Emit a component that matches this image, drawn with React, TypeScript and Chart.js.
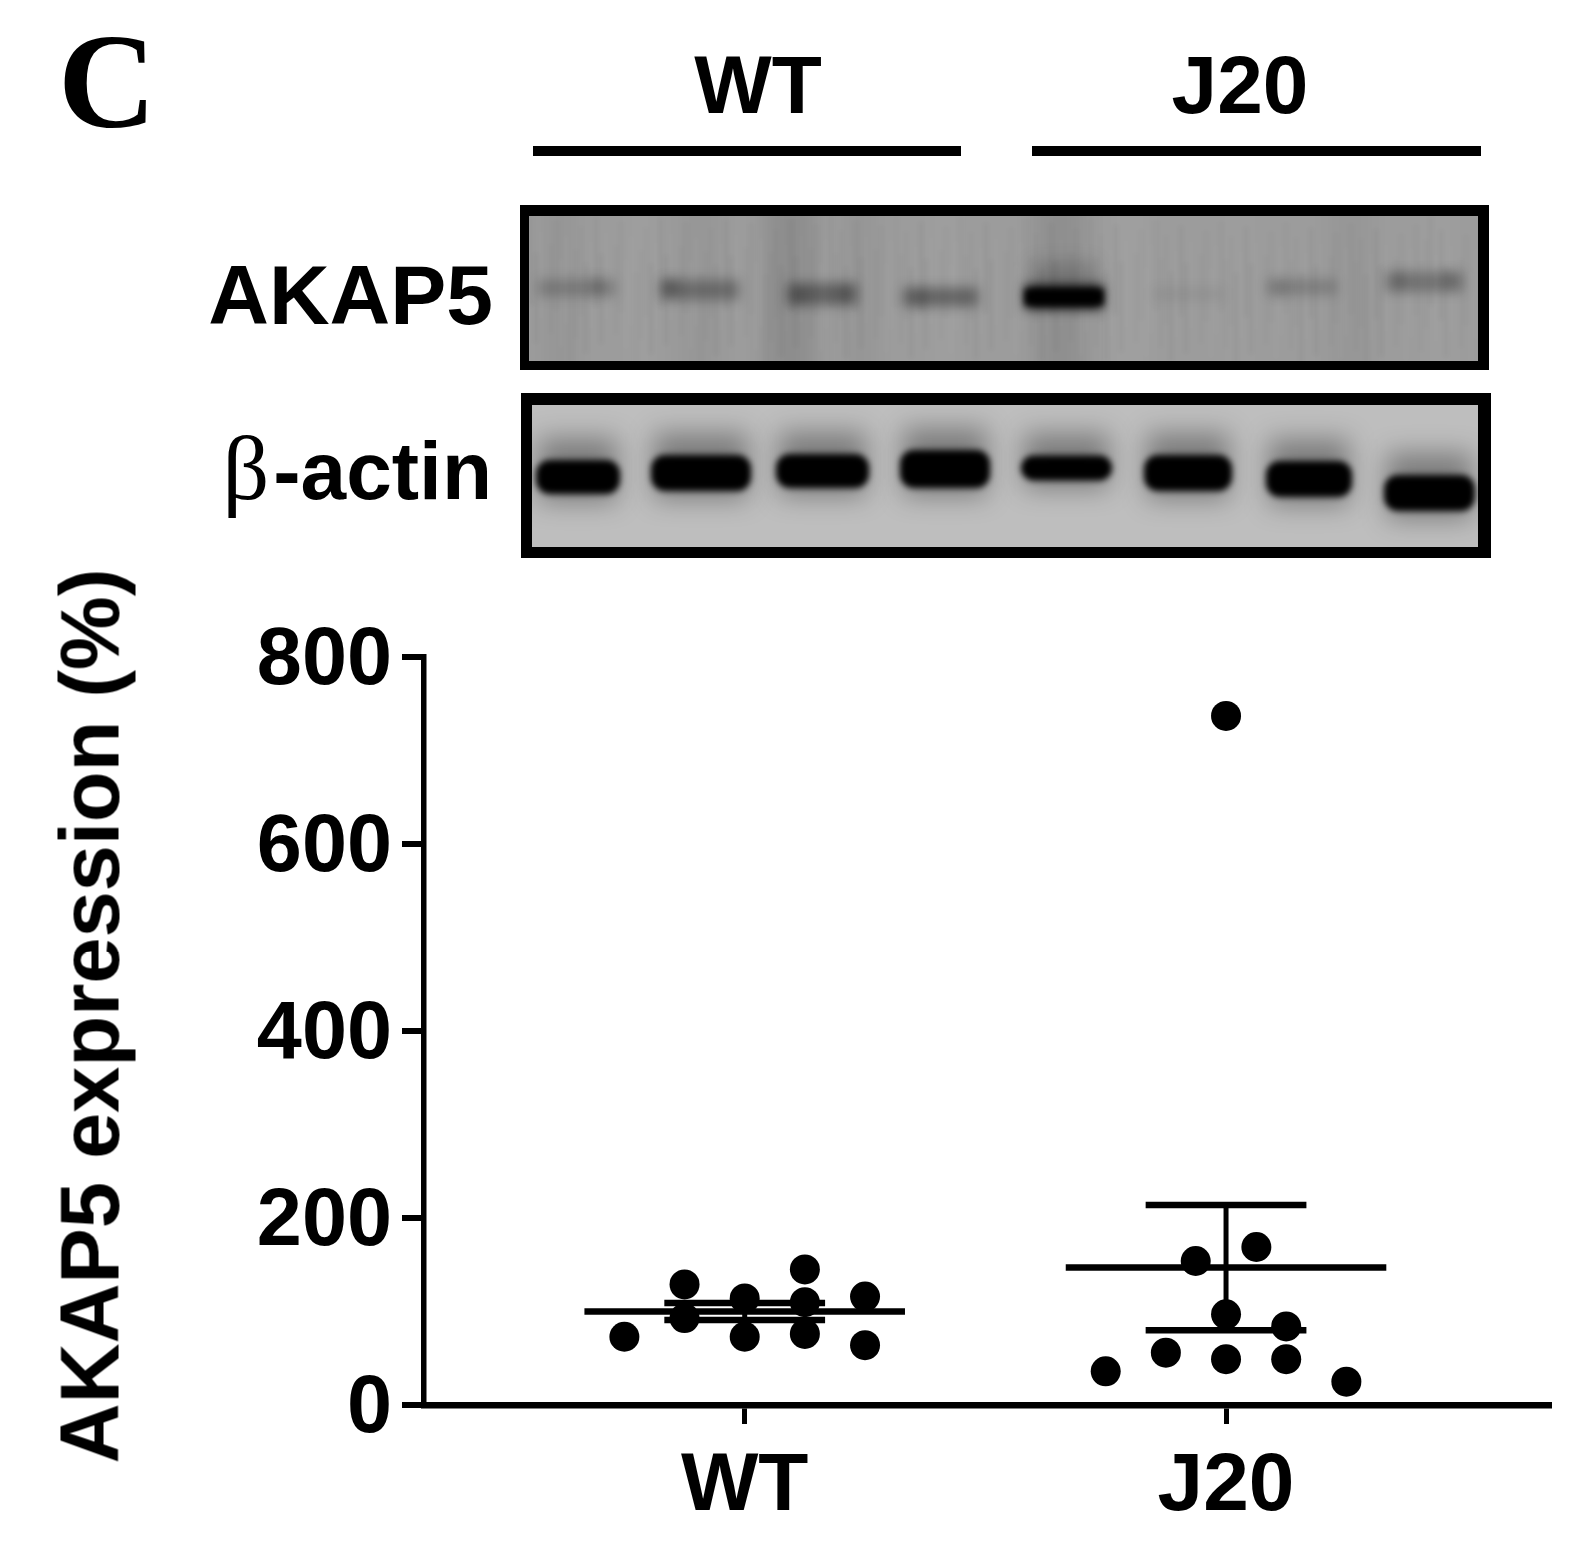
import React, { useEffect, useRef } from "react";
import { Chart, registerables } from "chart.js";

Chart.register(...registerables);

// ---- data ----
const groups = ["WT", "J20"];
const groupPositions = [1, 2];
const yTickStep = 200;
const yMax = 800;
const yTitle = "AKAP5 expression (%)";

const wtX = [0.75, 0.875, 0.875, 1, 1, 1.125, 1.125, 1.125, 1.25, 1.25];
const wtY = [73, 129, 93, 114, 73, 145, 110, 76, 116, 64];
const j20X = [1.75, 1.875, 1.937, 2.063, 2, 2, 2.125, 2.125, 2.25, 2];
const j20Y = [36, 56, 154, 169, 97, 49, 84, 49, 25, 737];

const means = [100, 147];
const sds = [9, 67];

// ---- blot decoration: [left, right, centre y, height, darkness] ----
const akapBands = [
  [535, 618, 288, 17, 0.2],
  [658, 742, 290, 20, 0.3],
  [784, 860, 294, 22, 0.36],
  [900, 981, 297, 19, 0.36],
  [1022, 1106, 297, 24, 0.9],
  [1150, 1227, 294, 12, 0.06],
  [1264, 1340, 287, 16, 0.18],
  [1383, 1466, 282, 20, 0.26],
];
const akapLobes = [
  [597, 14, 286, 0.14],
  [670, 16, 287, 0.22],
  [800, 14, 296, 0.14],
  [845, 14, 294, 0.14],
  [920, 14, 298, 0.12],
  [1280, 12, 288, 0.1],
  [1400, 14, 280, 0.12],
  [1450, 14, 280, 0.12],
];
const actinBands = [
  [535, 621, 477, 34],
  [650, 752, 473, 36],
  [775, 870, 471, 34],
  [899, 991, 469, 38],
  [1020, 1113, 468, 25],
  [1143, 1233, 473, 36],
  [1265, 1353, 479, 36],
  [1383, 1476, 493, 36],
];
const akapStreaks = [
  [560, 30, 0.04], [640, 20, -0.04], [700, 40, 0.03], [790, 50, 0.09], [860, 30, 0.04],
  [945, 30, -0.03], [1060, 50, 0.08], [1130, 40, -0.04], [1240, 30, -0.02], [1350, 40, 0.03], [1440, 30, -0.03],
];
const grainPattern = [0.03, -0.02, 0.01, -0.03, 0.02, 0.01, -0.02, 0.03, -0.01, 0.02, -0.03, 0.01, 0.03];

const blotPlugin = {
  id: "blots",
  beforeDraw(chart: any) {
    const ctx = chart.ctx as CanvasRenderingContext2D;
    ctx.save();
    ctx.fillStyle = "#fff";
    ctx.fillRect(0, 0, chart.width, chart.height);

    // header rules
    ctx.fillStyle = "#000";
    ctx.fillRect(533, 146, 428, 10);
    ctx.fillRect(1032, 146, 449, 10);

    // AKAP5 blot
    ctx.fillStyle = "#000";
    ctx.fillRect(520, 205, 969, 165);
    ctx.save();
    ctx.beginPath();
    ctx.rect(529, 216, 949, 145);
    ctx.clip();
    ctx.fillStyle = "#9c9c9c";
    ctx.fillRect(529, 216, 949, 145);
    ctx.filter = "blur(10px)";
    for (const [x, w, a] of akapStreaks) {
      ctx.fillStyle = a > 0 ? `rgba(0,0,0,${a})` : `rgba(255,255,255,${-a})`;
      ctx.fillRect(x - w / 2, 200, w, 180);
    }
    // fine film grain
    ctx.filter = "blur(2px)";
    for (let x = 529, i = 0; x < 1478; x += 5, i++) {
      const a = grainPattern[(i * 7) % grainPattern.length];
      ctx.fillStyle = a > 0 ? `rgba(0,0,0,${a})` : `rgba(255,255,255,${-a})`;
      ctx.fillRect(x, 216 + ((i * 37) % 60), 4, 90);
    }
    ctx.filter = "blur(6px)";
    for (const [l, r, y, h, a] of akapBands) {
      ctx.fillStyle = `rgba(0,0,0,${a})`;
      ctx.fillRect(l + 3, y - h / 2, r - l - 6, h);
    }
    for (const [x, w, y, a] of akapLobes) {
      ctx.fillStyle = `rgba(0,0,0,${a})`;
      ctx.fillRect(x - w / 2, y - 8, w, 16);
    }
    // halo and core of the strong band
    ctx.filter = "blur(9px)";
    ctx.fillStyle = "rgba(0,0,0,0.18)";
    ctx.fillRect(1032, 262, 64, 28);
    ctx.filter = "blur(3px)";
    ctx.fillStyle = "#000";
    ctx.fillRect(1025, 289, 78, 16);
    ctx.restore();

    // actin blot
    ctx.fillStyle = "#000";
    ctx.fillRect(521, 393, 970, 165);
    ctx.save();
    ctx.beginPath();
    ctx.rect(532, 405, 946, 142);
    ctx.clip();
    ctx.fillStyle = "#bebebe";
    ctx.fillRect(532, 405, 946, 142);
    ctx.filter = "blur(13px)";
    for (const [l, r, y, h] of actinBands) {
      ctx.fillStyle = "rgba(0,0,0,0.34)";
      ctx.fillRect(l + 4, y - h / 2 - 22, r - l - 8, h + 30);
    }
    ctx.filter = "blur(3px)";
    ctx.fillStyle = "#000";
    for (const [l, r, y, h] of actinBands) {
      ctx.beginPath();
      ctx.roundRect(l + 1, y - h / 2, r - l - 2, h, 14);
      ctx.fill();
    }
    ctx.restore();
    ctx.restore();

    // nudge the y tick digits down to their place beside the ticks
    for (const item of chart.scales.y.getLabelItems()) {
      if (!item.__nudged) {
        item.textOffset += 5;
        item.__nudged = true;
      }
    }
  },
};

const boldFont = '"Liberation Sans", Arial, sans-serif';

const labelStyle = (left: number, top: number, size: number, align: "left" | "center" | "right"): React.CSSProperties => ({
  position: "absolute",
  left,
  top,
  fontFamily: boldFont,
  fontWeight: 700,
  fontSize: size,
  lineHeight: `${size}px`,
  color: "#000",
  whiteSpace: "nowrap",
  transform: align === "center" ? "translateX(-50%)" : align === "right" ? "translateX(-100%)" : undefined,
});

export default function App() {
  const ref = useRef<HTMLCanvasElement>(null);

  useEffect(() => {
    if (!ref.current) return;
    const summary = (pts: { x: number; y: number }[], width: number) => ({
      type: "line" as const,
      data: pts,
      borderColor: "#000",
      borderWidth: width,
      pointRadius: 0,
      showLine: true,
      fill: false,
    });
    const summaryDatasets: any[] = [];
    groupPositions.forEach((g, i) => {
      const m = means[i];
      const s = sds[i];
      summaryDatasets.push(summary([{ x: g - 0.333, y: m }, { x: g + 0.333, y: m }], 6.5));
      summaryDatasets.push(summary([{ x: g - 0.167, y: m + s }, { x: g + 0.167, y: m + s }], 6.5));
      summaryDatasets.push(summary([{ x: g - 0.167, y: m - s }, { x: g + 0.167, y: m - s }], 6.5));
      summaryDatasets.push(summary([{ x: g, y: m - s }, { x: g, y: m + s }], 5));
    });
    const points = (xs: number[], ys: number[]) => ({
      type: "scatter" as const,
      data: xs.map((x, i) => ({ x, y: ys[i] })),
      backgroundColor: "#000",
      borderColor: "#000",
      borderWidth: 0,
      pointRadius: 15,
      pointHoverRadius: 15,
    });
    const chart = new Chart(ref.current, {
      type: "scatter",
      data: { datasets: [points(wtX, wtY), points(j20X, j20Y), ...summaryDatasets] },
      plugins: [blotPlugin],
      options: {
        animation: false,
        responsive: false,
        devicePixelRatio: 1,
        layout: { padding: { left: 30, top: 657, right: 44, bottom: 0 } },
        plugins: { legend: { display: false }, tooltip: { enabled: false } },
        scales: {
          x: {
            type: "linear",
            min: 0.3337,
            max: 2.671,
            afterBuildTicks: (axis: any) => {
              axis.ticks = groupPositions.map((value) => ({ value }));
            },
            afterFit: (axis: any) => {
              axis.height = 140;
            },
            grid: { drawOnChartArea: false, color: "#000", lineWidth: 5, tickLength: 19, tickWidth: 5, tickColor: "#000" },
            border: { color: "#000", width: 6.5 },
            ticks: {
              color: "#000",
              padding: 14,
              autoSkip: false,
              maxRotation: 0,
              font: { family: boldFont, weight: "bold", size: 82 },
              callback: (v: any) => groups[groupPositions.indexOf(Number(v))] ?? "",
            },
          },
          y: {
            type: "linear",
            min: 0,
            max: yMax,
            afterFit: (axis: any) => {
              axis.width = 394;
            },
            grid: { drawOnChartArea: false, color: "#000", lineWidth: 6, tickLength: 22, tickWidth: 6, tickColor: "#000" },
            border: { color: "#000", width: 5.5 },
            ticks: {
              color: "#000",
              stepSize: yTickStep,
              padding: 10,
              font: { family: boldFont, weight: "bold", size: 81 },
            },
          },
        },
      } as any,
    });
    return () => chart.destroy();
  }, []);

  return (
    <div style={{ position: "absolute", left: 0, top: 0, width: 1593, height: 1545, background: "#fff", overflow: "hidden" }}>
      <canvas ref={ref} width={1593} height={1545} style={{ display: "block" }} />
      <span style={{ ...labelStyle(58, 13, 136, "left"), fontFamily: '"Liberation Serif", serif', fontWeight: 700 }}>C</span>
      <span style={labelStyle(758, 44, 82, "center")}>WT</span>
      <span style={labelStyle(1240, 44, 82, "center")}>J20</span>
      <span style={labelStyle(493, 253, 84, "right")}>AKAP5</span>
      <span style={labelStyle(492, 427, 82, "right")}>
        <span style={{ fontFamily: '"Liberation Serif", serif', fontWeight: 400, fontSize: 92, lineHeight: "82px", marginRight: 4 }}>β</span>-actin
      </span>
      <span
        style={{
          ...labelStyle(90, 1016, 83, "left"),
          transform: "translate(-50%, -50%) rotate(-90deg)",
        }}
      >
        {yTitle}
      </span>
    </div>
  );
}
